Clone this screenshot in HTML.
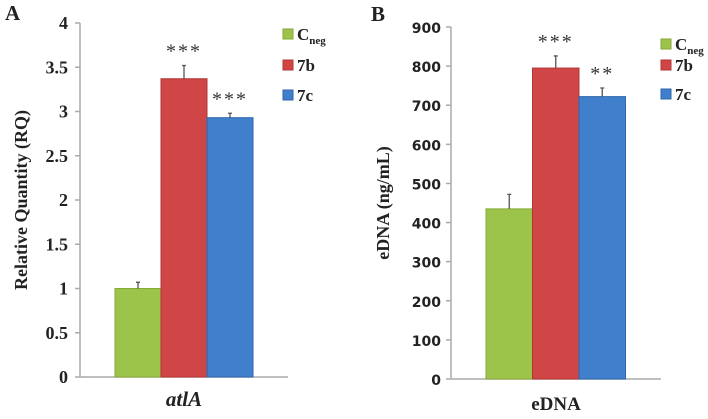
<!DOCTYPE html>
<html><head><meta charset="utf-8"><style>
body{margin:0;background:#fff}
svg text{font-family:"Liberation Serif",serif;font-weight:bold;fill:#222}
.tk{font-size:18px;text-anchor:end}
.tkb{font-family:"DejaVu Sans",sans-serif!important;font-size:14px;text-anchor:end}
</style></head><body>
<svg width="708" height="414" viewBox="0 0 708 414" id="fig"></svg>
<script>
const groups=["Cneg","7b","7c"];
const colors=["#9dc44a","#d04545","#3f7fcc"];
const strokes=["#86aa38","#b33434","#2f66ad"];
const valuesA=[1.0,3.37,2.93];
const errA=[0.07,0.15,0.05];
const starsA=["","***","***"];
const ticksA=["0","0.5","1","1.5","2","2.5","3","3.5","4"];
const valuesB=[435,795,722];
const errB=[37,31,22];
const starsB=["","***","**"];
const ticksB=["0","100","200","300","400","500","600","700","800","900"];
const NS="http://www.w3.org/2000/svg";
const svg=document.getElementById('fig');
function el(t,a,txt){const e=document.createElementNS(NS,t);for(const k in a)e.setAttribute(k,a[k]);if(txt!==undefined)e.textContent=txt;svg.appendChild(e);return e;}
function panel(p){
  const y=v=>p.y0-(v/p.max)*(p.y0-p.y1);
  let e=el('line',{x1:p.ax,y1:p.y1,x2:p.ax,y2:p.y0,stroke:'#aaa','stroke-width':1.5});
  
  
  e=el('line',{x1:p.ax,y1:p.y0,x2:p.axEnd,y2:p.y0,stroke:'#aaa','stroke-width':1.5});
  
  
  p.ticks.forEach(t=>{const v=parseFloat(t);const yy=y(v);
    el('line',{x1:p.ax-5,y1:yy,x2:p.ax,y2:yy,stroke:'#aaa','stroke-width':1.5});
    e=el('text',{x:p.tx,y:yy+6,class:p.tkClass},t);
    
    
  });
  p.vals.forEach((v,i)=>{const x=p.bx+i*p.bw;const top=y(v);
    e=el('rect',{x:x,y:top,width:p.bw,height:p.y0-top,fill:colors[i],stroke:strokes[i],'stroke-width':1});
    
    
    const cx=x+p.bw/2, ey=y(v+p.err[i]);
    e=el('path',{d:`M${cx},${top}V${ey}M${cx-2},${ey}H${cx+2}`,stroke:'#555','stroke-width':1.3,fill:'none'});
    
    
    if(p.stars[i]){e=el('text',{x:cx,y:ey-8,'text-anchor':'middle','font-size':'20px','letter-spacing':'2px',style:'font-weight:normal;fill:#333'},p.stars[i]);
      
      }
  });
  p.legY.forEach((ly,i)=>{
    e=el('rect',{x:p.lx,y:ly-6,width:10,height:10,fill:colors[i],stroke:strokes[i]});
    
    
    e=el('text',{x:p.lx+14,y:ly+5,'font-size':'17px'});
    
    
    if(i==0){e.innerHTML='C<tspan font-size="11px" dy="4">neg</tspan>';}else e.textContent=groups[i];
  });
}
panel({id:'a',ax:80,axEnd:288,y0:377,y1:23,max:4,ticks:ticksA,tx:68,tkClass:'tk',vals:valuesA,err:errA,stars:starsA,bx:115,bw:46,lx:283,legY:[35,66,96]});
panel({id:'b',ax:451,axEnd:661,y0:379,y1:27,max:900,ticks:ticksB,tx:441,tkClass:'tkb',vals:valuesB,err:errB,stars:starsB,bx:486,bw:46.5,lx:661,legY:[45,66,95]});
let t;
t=el('text',{x:5,y:20,'font-size':'21px'},'A');
t=el('text',{x:371,y:21,'font-size':'21px'},'B');
t=el('text',{x:0,y:0,'font-size':'18px','text-anchor':'middle',transform:'translate(27,200) rotate(-90)'},'Relative Quantity (RQ)');
t=el('text',{x:0,y:0,'font-size':'18px','text-anchor':'middle',transform:'translate(389,203) rotate(-90)'},'eDNA (ng/mL)');
t=el('text',{x:184,y:406,'font-size':'21px','text-anchor':'middle','font-style':'italic'},'atlA');
t=el('text',{x:556,y:410,'font-size':'19px','text-anchor':'middle'},'eDNA');
</script>
</body></html>
